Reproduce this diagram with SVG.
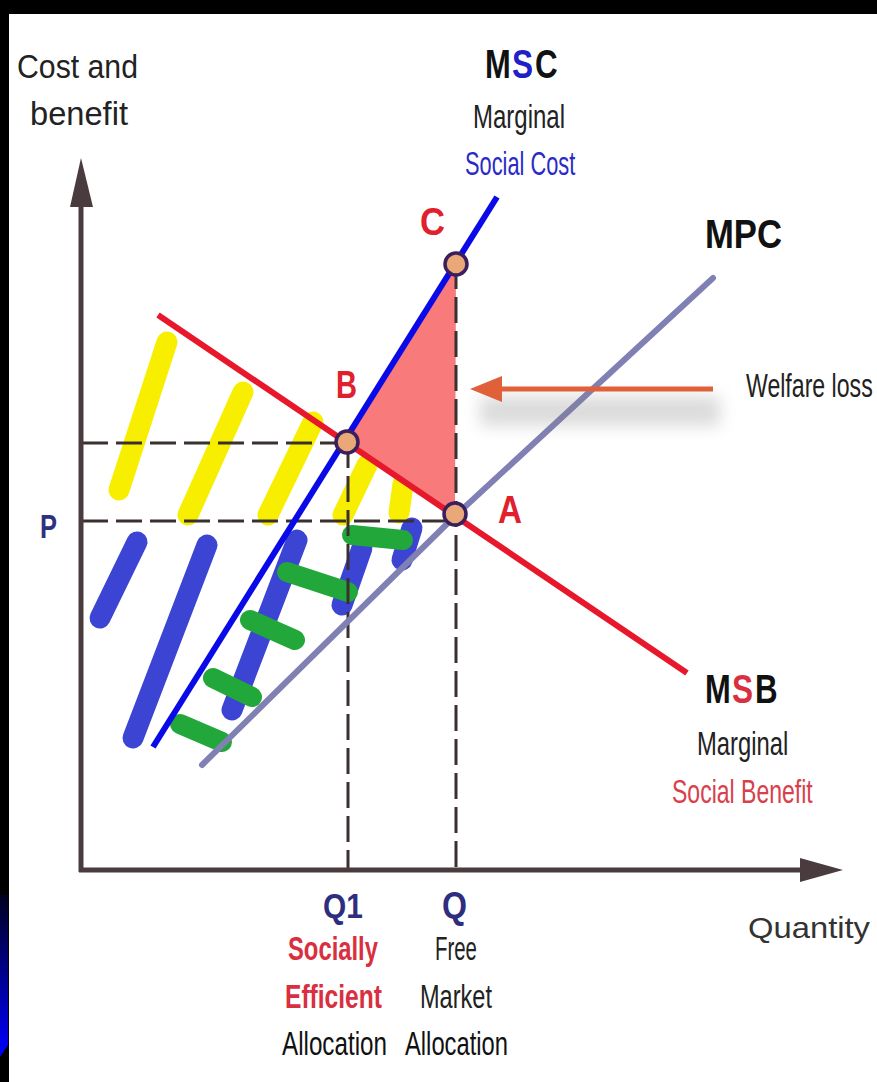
<svg xmlns="http://www.w3.org/2000/svg" width="877" height="1082" viewBox="0 0 877 1082">
<defs>
<linearGradient id="strip" x1="0" y1="0" x2="0" y2="1">
<stop offset="0" stop-color="#000020"/>
<stop offset="1" stop-color="#0000ff"/>
</linearGradient>
<filter id="blur" x="-20%" y="-50%" width="140%" height="200%"><feGaussianBlur stdDeviation="8"/></filter>
<style>
text{font-family:"Liberation Sans",Arial,sans-serif}
.lbl{font-size:33px;fill:#222}
.big{font-size:40px;font-weight:bold;fill:#111}
.pt{font-size:38px;font-weight:bold;fill:#e0202c}
.red{font-size:34px;font-weight:bold;fill:#d83040}
.navy{font-size:36px;font-weight:bold;fill:#2e2e80}
.axis{stroke:#4a3c3e;stroke-width:5;fill:none}
.dash{stroke:#3a3030;stroke-width:3;stroke-dasharray:26 8;fill:none}
.yel{stroke:#f8ee00;stroke-width:21;stroke-linecap:round;fill:none}
.blu{stroke:#3c44d4;stroke-width:21;stroke-linecap:round;fill:none}
.grn{stroke:#22a83a;stroke-width:20;stroke-linecap:round;fill:none}
.dot{fill:#eaa878;stroke:#3a1f5c;stroke-width:3.5}
</style>
</defs>
<rect x="0" y="0" width="877" height="1082" fill="#000"/>
<rect x="9" y="14" width="868" height="1068" fill="#fff"/>
<polygon points="0,895 8,895 8,1045 0,1057" fill="url(#strip)"/>

<g id="scribbles">
<line class="yel" x1="167" y1="342" x2="119" y2="490"/>
<line class="yel" x1="243" y1="392" x2="188" y2="515"/>
<line class="yel" x1="313" y1="422" x2="268" y2="515"/>
<line class="yel" x1="367" y1="465" x2="343" y2="515"/>
<line class="yel" x1="403" y1="484" x2="399" y2="513"/>
<line class="blu" x1="137" y1="542" x2="100" y2="618"/>
<line class="blu" x1="207" y1="545" x2="133" y2="738"/>
<line class="blu" x1="297" y1="540" x2="232" y2="710"/>
<line class="blu" x1="362" y1="548" x2="342" y2="605"/>
<line class="blu" x1="412" y1="528" x2="402" y2="560"/>
<line class="grn" x1="352" y1="535" x2="403" y2="540"/>
<line class="grn" x1="287" y1="572" x2="348" y2="592"/>
<line class="grn" x1="250" y1="620" x2="295" y2="640"/>
<line class="grn" x1="213" y1="678" x2="252" y2="697"/>
<line class="grn" x1="180" y1="724" x2="222" y2="742"/>
</g>

<g id="welfare-loss-area">
<polygon points="456,263 345,442 455,515" fill="#f87a7a"/>
</g>

<g id="guides">
<line class="dash" x1="82" y1="443" x2="345" y2="443"/>
<line class="dash" x1="82" y1="521" x2="455" y2="521"/>
<line class="dash" x1="348" y1="442" x2="348" y2="868"/>
<line class="dash" x1="456" y1="263" x2="456" y2="868"/>
</g>

<g id="axes">
<line class="axis" x1="81" y1="200" x2="81" y2="872"/>
<polygon points="81,158 93,207 70,207" fill="#4a3c3e"/>
<line class="axis" x1="79" y1="870" x2="805" y2="870"/>
<polygon points="843,870 800,858 800,882" fill="#4a3c3e"/>
<text class="lbl" x="17" y="78" textLength="121" lengthAdjust="spacingAndGlyphs">Cost and</text>
<text class="lbl" x="30" y="125" textLength="98" lengthAdjust="spacingAndGlyphs">benefit</text>
<text x="748" y="938" textLength="122" lengthAdjust="spacingAndGlyphs" style="font-size:30px;fill:#333">Quantity</text>
</g>

<g id="connectors">
<polyline points="202,765 455,516 713,278" stroke="#8080b4" stroke-width="6" stroke-linecap="round" fill="none"/>
<line x1="153" y1="747" x2="497" y2="197" stroke="#0a0ae8" stroke-width="6"/>
<line x1="158" y1="315" x2="687" y2="673" stroke="#e8182c" stroke-width="6"/>
<rect x="480" y="396" width="240" height="30" fill="#808080" opacity="0.28" filter="url(#blur)"/>
<line x1="498" y1="389" x2="713" y2="389" stroke="#e0603a" stroke-width="5"/>
<polygon points="470,389 502,376 502,402" fill="#e0603a"/>
</g>

<g id="point-C"><circle class="dot" cx="456" cy="264" r="11"/><text class="pt" x="420" y="235" textLength="25" lengthAdjust="spacingAndGlyphs">C</text></g>
<g id="point-B"><circle class="dot" cx="347" cy="442" r="11"/><text class="pt" x="336" y="398" textLength="21" lengthAdjust="spacingAndGlyphs">B</text></g>
<g id="point-A"><circle class="dot" cx="455" cy="514" r="11"/><text class="pt" x="498" y="523" textLength="24" lengthAdjust="spacingAndGlyphs">A</text></g>

<g id="label-MSC">
<text class="big" transform="translate(485,78) scale(0.78,1)" textLength="33" lengthAdjust="spacingAndGlyphs">M</text>
<text class="big" transform="translate(512,78) scale(0.78,1)" textLength="27" lengthAdjust="spacingAndGlyphs" style="fill:#2020c8">S</text>
<text class="big" transform="translate(535,78) scale(0.78,1)" textLength="29" lengthAdjust="spacingAndGlyphs">C</text>
<text class="lbl" transform="translate(473,128) scale(0.73,1)" textLength="126" lengthAdjust="spacingAndGlyphs">Marginal</text>
<text class="lbl" transform="translate(465,175) scale(0.66,1)" textLength="167" lengthAdjust="spacingAndGlyphs" style="fill:#2a2ac8">Social Cost</text>
</g>
<g id="label-MPC">
<text class="big" transform="translate(705,248) scale(0.87,1)" textLength="88.5" lengthAdjust="spacingAndGlyphs">MPC</text>
</g>
<g id="label-welfare">
<text class="lbl" transform="translate(746,397) scale(0.7,1)" textLength="181" lengthAdjust="spacingAndGlyphs">Welfare loss</text>
</g>
<g id="label-MSB">
<text class="big" transform="translate(705,703) scale(0.78,1)" textLength="33" lengthAdjust="spacingAndGlyphs">M</text>
<text class="big" transform="translate(732,703) scale(0.78,1)" textLength="27" lengthAdjust="spacingAndGlyphs" style="fill:#d83040">S</text>
<text class="big" transform="translate(755,703) scale(0.78,1)" textLength="29" lengthAdjust="spacingAndGlyphs">B</text>
<text class="lbl" transform="translate(697,755) scale(0.73,1)" textLength="125" lengthAdjust="spacingAndGlyphs">Marginal</text>
<text class="lbl" transform="translate(672,803) scale(0.7,1)" textLength="201" lengthAdjust="spacingAndGlyphs" style="fill:#d8404c">Social Benefit</text>
</g>
<g id="label-P">
<text x="40" y="538" textLength="17" lengthAdjust="spacingAndGlyphs" style="font-size:33px;font-weight:bold;fill:#303080">P</text>
</g>
<g id="label-Q1">
<text class="navy" transform="translate(323,918) scale(0.83,1)" textLength="48" lengthAdjust="spacingAndGlyphs">Q1</text>
<text class="red" transform="translate(288,960) scale(0.7,1)" textLength="128.5" lengthAdjust="spacingAndGlyphs">Socially</text>
<text class="red" transform="translate(285,1008) scale(0.72,1)" textLength="134.7" lengthAdjust="spacingAndGlyphs">Efficient</text>
<text class="lbl" transform="translate(282,1055) scale(0.73,1)" textLength="143.8" lengthAdjust="spacingAndGlyphs" style="fill:#111">Allocation</text>
</g>
<g id="label-Q">
<text class="navy" x="442" y="918" textLength="25" lengthAdjust="spacingAndGlyphs">Q</text>
<text class="lbl" transform="translate(435,960) scale(0.62,1)" textLength="67.7" lengthAdjust="spacingAndGlyphs">Free</text>
<text class="lbl" transform="translate(420,1008) scale(0.71,1)" textLength="101.4" lengthAdjust="spacingAndGlyphs">Market</text>
<text class="lbl" transform="translate(405,1055) scale(0.72,1)" textLength="143" lengthAdjust="spacingAndGlyphs" style="fill:#111">Allocation</text>
</g>
</svg>
